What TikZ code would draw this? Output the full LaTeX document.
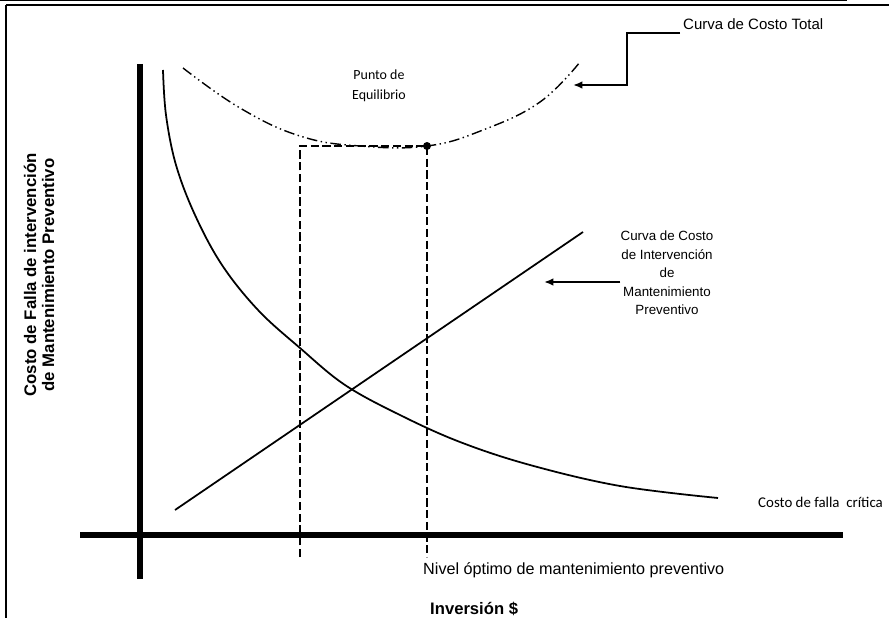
\documentclass[tikz,border=0pt]{standalone}
\usepackage{fontspec}
\setmainfont{Liberation Sans}
\newfontfamily\calibri{Carlito}
\usetikzlibrary{arrows.meta}

\tikzset{
  axisline/.style={line width=5.5pt},
  curveline/.style={line width=1.5pt},
  guideline/.style={line width=1.5pt,dash pattern=on 7pt off 3pt},
  totalline/.style={line width=1.2pt,dash pattern=on 9pt off 3pt on 1.2pt off 3pt on 1.2pt off 3pt},
  arr/.style={line width=1.6pt,-{Latex[length=8pt,width=6.5pt]}},
  lbl/.style={inner sep=0pt,font=\fontsize{12.8pt}{15pt}\selectfont}
}

\begin{document}
\begin{tikzpicture}[x=0.03cm,y=-0.03cm]
\useasboundingbox (0,0) rectangle (889,618);

% frame
\draw[line width=1pt] (0,0.6) -- (847,0.6);
\draw[line width=1.2pt] (6,5) -- (889,5);
\draw[line width=1.2pt] (6,5) -- (6,618);

% axes
\draw[axisline] (140,64) -- (140,579);
\draw[axisline] (80,535) -- (843,535);

% curves
\draw[curveline] plot[smooth,tension=0.6] coordinates {(163,70) (166,115) (176,165) (195,215) (222,265) (258,310) (300,348) (345,385) (400,415) (460,442) (530,465) (620,486) (718,498)};
\draw[curveline] (175,510) -- (583,232);
\draw[totalline] plot[smooth,tension=0.7] coordinates {(183,68) (240,108) (300,136) (360,146) (427,146) (483,130) (540,102) (580,62)};

% optimum
\coordinate (eq) at (427,146);
\draw[guideline] (300,557) -- (300,146) -- (eq) -- (427,557);
\fill (eq) circle (3.4pt);

% labels
\node[lbl,anchor=west] (lblTotal) at (683,24) {Curva de Costo Total};
\node[lbl,align=center,font=\fontsize{11.4pt}{15.8pt}\selectfont] (lblInterv) at (667,273) {Curva de Costo\\de Intervención\\de\\Mantenimiento\\Preventivo};
\node[lbl,align=center,font=\calibri\fontsize{11.9pt}{17pt}\selectfont] (lblEquil) at (379,86) {Punto de\\Equilibrio};
\node[lbl,anchor=west,font=\calibri\fontsize{12.7pt}{14pt}\selectfont] (lblFalla) at (758,502) {Costo de falla\ \ crítica};
\node[lbl,anchor=west,font=\fontsize{13.8pt}{16pt}\selectfont] (lblNivel) at (423,570) {Nivel óptimo de mantenimiento preventivo};
\node[lbl,anchor=west,font=\bfseries\fontsize{14.2pt}{16pt}\selectfont] (lblInv) at (430,609) {Inversión \$};
\node[lbl,align=center,rotate=90,font=\bfseries\fontsize{14.3pt}{15.4pt}\selectfont] (lblCosto) at (39,275) {Costo de Falla de intervención\\de Mantenimiento Preventivo};

% pointers
\coordinate (tipTotal) at (573,85);
\coordinate (tipInterv) at (544,282);
\draw[arr] ([xshift=-2.5pt,yshift=-3pt]lblTotal.south west) -- ++(-53,0) |- (tipTotal);
\draw[arr] (lblInterv.west |- tipInterv) -- (tipInterv);
\end{tikzpicture}
\end{document}
